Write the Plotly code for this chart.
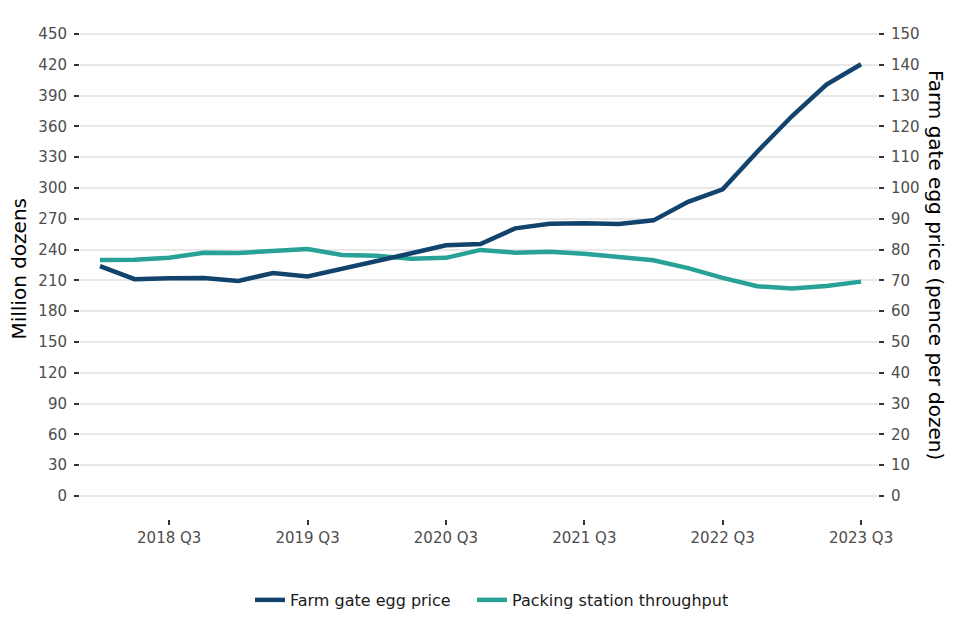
import plotly.graph_objects as go

quarters = ["2018 Q1", "2018 Q2", "2018 Q3", "2018 Q4",
            "2019 Q1", "2019 Q2", "2019 Q3", "2019 Q4",
            "2020 Q1", "2020 Q2", "2020 Q3", "2020 Q4",
            "2021 Q1", "2021 Q2", "2021 Q3", "2021 Q4",
            "2022 Q1", "2022 Q2", "2022 Q3", "2022 Q4",
            "2023 Q1", "2023 Q2", "2023 Q3"]

farm_gate_price = [74.6, 70.4, 70.7, 70.8, 69.8, 72.4, 71.3, 73.7,
                   76.2, 78.8, 81.4, 81.8, 86.9, 88.4, 88.6, 88.3,
                   89.5, 95.5, 99.6, 111.8, 123.3, 133.6, 140.2]

packing_throughput = [229.9, 230.2, 232.0, 237.0, 236.7, 238.5, 240.5, 234.8,
                      234.0, 231.0, 232.0, 239.7, 237.0, 237.8, 235.9, 232.8,
                      229.6, 222.0, 212.5, 204.3, 202.0, 204.6, 208.8]

x_ticks = ["2018 Q3", "2019 Q3", "2020 Q3", "2021 Q3", "2022 Q3", "2023 Q3"]
left_ticks = list(range(0, 451, 30))
right_ticks = list(range(0, 151, 10))

NAVY = "#12436D"
TEAL = "#28A197"
FONT = "DejaVu Sans, Liberation Sans, Arial, sans-serif"

fig = go.Figure()
fig.add_trace(go.Scatter(x=quarters, y=farm_gate_price, name="Farm gate egg price",
                         mode="lines", line=dict(color=NAVY, width=4.5), yaxis="y2",
                         legend="legend"))
fig.add_trace(go.Scatter(x=quarters, y=packing_throughput, name="Packing station throughput",
                         mode="lines", line=dict(color=TEAL, width=4.5), yaxis="y",
                         legend="legend2"))

tickfont = dict(family=FONT, size=15, color="#4d4d4d")
legfont = dict(family=FONT, size=16, color="#1a1a1a")

fig.update_layout(
    width=960, height=640,
    margin=dict(l=72, r=90, t=3, b=129),
    paper_bgcolor="white", plot_bgcolor="white",
    font=dict(family=FONT),
    showlegend=True,
    legend=dict(orientation="h", x=0.213, xanchor="left", y=-0.1594, yanchor="middle",
                font=legfont, itemwidth=30, bgcolor="rgba(0,0,0,0)"),
    legend2=dict(orientation="h", x=0.4912, xanchor="left", y=-0.1594, yanchor="middle",
                 font=legfont, itemwidth=30, bgcolor="rgba(0,0,0,0)"),
    xaxis=dict(type="category", categoryorder="array", categoryarray=quarters,
               range=[-0.578, 22.49], tickmode="array", tickvals=x_ticks, ticktext=x_ticks,
               showgrid=False, zeroline=False, showline=False, automargin=False,
               ticks="outside", ticklen=5, tickwidth=1.5, tickcolor="#333333",
               tickfont=tickfont),
    yaxis=dict(range=[-22.5, 472.5], tickmode="array", tickvals=left_ticks,
               showgrid=True, gridcolor="#e8e8e8", gridwidth=1.5, zeroline=False,
               showline=False, ticks="outside", ticklen=5, tickwidth=1.5,
               tickcolor="#333333", tickfont=tickfont, ticklabelstandoff=4,
               automargin=False),
    yaxis2=dict(range=[-7.5, 157.5], tickmode="array", tickvals=right_ticks,
                overlaying="y", side="right", showgrid=False, zeroline=False,
                showline=False, ticks="outside", ticklen=5, tickwidth=1.5,
                tickcolor="#333333", tickfont=tickfont, ticklabelstandoff=4,
                automargin=False),
    annotations=[
        dict(text="Million dozens", xref="paper", yref="paper",
             x=-0.0758, y=0.492, xanchor="center", yanchor="middle", textangle=-90,
             showarrow=False, font=dict(family=FONT, size=20, color="#000000")),
        dict(text="Farm gate egg price (pence per dozen)", xref="paper", yref="paper",
             x=1.0733, y=0.499, xanchor="center", yanchor="middle", textangle=90,
             showarrow=False, font=dict(family=FONT, size=20, color="#000000")),
    ],
)

fig.write_html("out.html")
